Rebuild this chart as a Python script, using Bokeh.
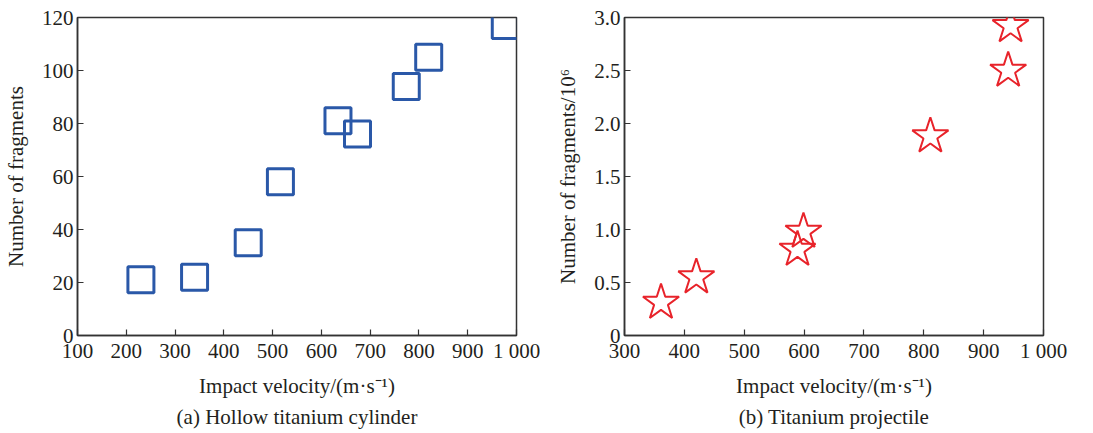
from bokeh.plotting import figure
from bokeh.models import Title, FixedTicker, Range1d
from bokeh.layouts import row
from bokeh.embed import file_html
from bokeh.resources import INLINE

# (a) Hollow titanium cylinder
cyl_velocity = [230, 340, 450, 516, 634, 674, 774, 820, 977]
cyl_fragments = [21, 22, 35, 58, 81, 76, 94, 105, 117]

# (b) Titanium projectile (fragments / 10^6)
proj_velocity = [361, 420, 589, 599, 811, 941, 945]
proj_fragments = [0.31, 0.55, 0.81, 0.98, 1.88, 2.50, 2.92]

cyl_xticks = [100, 200, 300, 400, 500, 600, 700, 800, 900, 1000]
cyl_xlabels = ["100", "200", "300", "400", "500", "600", "700", "800", "900", "1 000"]
cyl_yticks = [0, 20, 40, 60, 80, 100, 120]
cyl_ylabels = ["0", "20", "40", "60", "80", "100", "120"]

proj_xticks = [300, 400, 500, 600, 700, 800, 900, 1000]
proj_xlabels = ["300", "400", "500", "600", "700", "800", "900", "1 000"]
proj_yticks = [0, 0.5, 1.0, 1.5, 2.0, 2.5, 3.0]
proj_ylabels = ["0", "0.5", "1.0", "1.5", "2.0", "2.5", "3.0"]

FONT = "Liberation Serif"
TXT = "#231f20"


def style(p, xticks, xlabels, yticks, ylabels, xlab, ylab, caption):
    p.grid.visible = False
    p.outline_line_color = "#333333"
    p.outline_line_width = 1.5
    p.background_fill_color = "white"
    p.border_fill_color = "white"
    p.xaxis.ticker = FixedTicker(ticks=xticks)
    p.yaxis.ticker = FixedTicker(ticks=yticks)
    p.xaxis.major_label_overrides = {t: l for t, l in zip(xticks, xlabels)}
    p.yaxis.major_label_overrides = {t: l for t, l in zip(yticks, ylabels)}
    for ax in (p.xaxis, p.yaxis):
        ax.axis_line_color = "#333333"
        ax.axis_line_width = 1.5
        ax.major_tick_line_color = "#333333"
        ax.major_tick_line_width = 1.2
        ax.major_tick_in = 6
        ax.major_tick_out = 0
        ax.minor_tick_line_color = None
        ax.major_label_text_font = FONT
        ax.major_label_text_font_size = "21px"
        ax.major_label_text_color = TXT
        ax.axis_label_text_font = FONT
        ax.axis_label_text_font_size = "21px"
        ax.axis_label_text_font_style = "normal"
        ax.axis_label_text_color = TXT
    p.xaxis.axis_label = xlab
    p.yaxis.axis_label = ylab
    p.xaxis.major_label_standoff = 3
    p.yaxis.major_label_standoff = 4
    p.xaxis.axis_label_standoff = 8
    p.yaxis.axis_label_standoff = 11
    t = Title(text=caption, align="center", text_font=FONT, text_font_size="21px",
              text_font_style="normal", text_color=TXT, standoff=4)
    p.add_layout(t, "below")


p1 = figure(width=540, height=430, output_backend="svg", toolbar_location=None,
            x_range=Range1d(100, 1000), y_range=Range1d(0, 120),
            min_border_left=75, min_border_right=24, min_border_top=17, min_border_bottom=95)
p1.scatter(cyl_velocity, cyl_fragments, marker="square", size=26,
           fill_color=None, line_color="#2a58a8", line_width=3)
style(p1, cyl_xticks, cyl_xlabels, cyl_yticks, cyl_ylabels,
      "Impact velocity/(m·s⁻¹)", "Number of fragments", "(a) Hollow titanium cylinder")

p2 = figure(width=537, height=430, output_backend="svg", toolbar_location=None,
            x_range=Range1d(300, 1000), y_range=Range1d(0, 3.0),
            min_border_left=84, min_border_right=34, min_border_top=17, min_border_bottom=95)
p2.scatter(proj_velocity, proj_fragments, marker="star", size=38,
           fill_color=None, line_color="#e8232a", line_width=2.0)
style(p2, proj_xticks, proj_xlabels, proj_yticks, proj_ylabels,
      "Impact velocity/(m·s⁻¹)", "Number of fragments/10⁶", "(b) Titanium projectile")

layout = row(p1, p2)
open("out.html", "w").write(file_html(layout, INLINE))
